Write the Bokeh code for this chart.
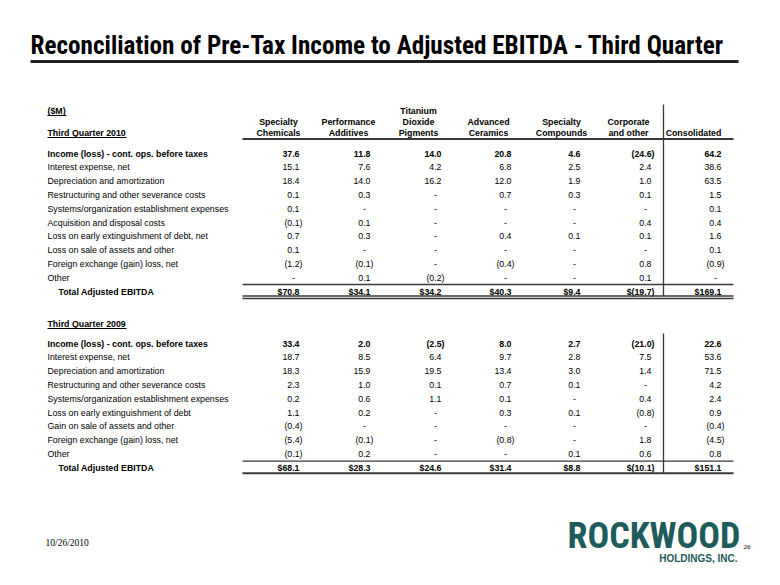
from bokeh.plotting import figure
from bokeh.models import Range1d, ColumnDataSource
from bokeh.core.properties import value
from bokeh.embed import file_html
from bokeh.resources import INLINE

# ---------------- data ----------------
title = "Reconciliation of Pre-Tax Income to Adjusted EBITDA - Third Quarter"
unit_label = "($M)"
segments = [
    ["Specialty", "Chemicals"],
    ["Performance", "Additives"],
    ["Titanium", "Dioxide", "Pigments"],
    ["Advanced", "Ceramics"],
    ["Specialty", "Compounds"],
    ["Corporate", "and other"],
    ["Consolidated"],
]

period_2010 = "Third Quarter 2010"
labels_2010 = [
    "Income (loss) - cont. ops. before taxes",
    "Interest expense, net",
    "Depreciation and amortization",
    "Restructuring and other severance costs",
    "Systems/organization establishment expenses",
    "Acquisition and disposal costs",
    "Loss on early extinguishment of debt, net",
    "Loss on sale of assets and other",
    "Foreign exchange (gain) loss, net",
    "Other",
    "Total Adjusted EBITDA",
]
spec_chem_2010 = [37.6, 15.1, 18.4, 0.1, 0.1, -0.1, 0.7, 0.1, -1.2, None, 70.8]
perf_add_2010 = [11.8, 7.6, 14.0, 0.3, None, 0.1, 0.3, None, -0.1, 0.1, 34.1]
tio2_2010 = [14.0, 4.2, 16.2, None, None, None, None, None, None, -0.2, 34.2]
adv_cer_2010 = [20.8, 6.8, 12.0, 0.7, None, None, 0.4, None, -0.4, None, 40.3]
spec_comp_2010 = [4.6, 2.5, 1.9, 0.3, None, None, 0.1, None, None, None, 9.4]
corp_2010 = [-24.6, 2.4, 1.0, 0.1, None, 0.4, 0.1, None, 0.8, 0.1, -19.7]
consol_2010 = [64.2, 38.6, 63.5, 1.5, 0.1, 0.4, 1.6, 0.1, -0.9, None, 169.1]

period_2009 = "Third Quarter 2009"
labels_2009 = [
    "Income (loss) - cont. ops. before taxes",
    "Interest expense, net",
    "Depreciation and amortization",
    "Restructuring and other severance costs",
    "Systems/organization establishment expenses",
    "Loss on early extinguishment of debt",
    "Gain on sale of assets and other",
    "Foreign exchange (gain) loss, net",
    "Other",
    "Total Adjusted EBITDA",
]
spec_chem_2009 = [33.4, 18.7, 18.3, 2.3, 0.2, 1.1, -0.4, -5.4, -0.1, 68.1]
perf_add_2009 = [2.0, 8.5, 15.9, 1.0, 0.6, 0.2, None, -0.1, 0.2, 28.3]
tio2_2009 = [-2.5, 6.4, 19.5, 0.1, 1.1, None, None, None, None, 24.6]
adv_cer_2009 = [8.0, 9.7, 13.4, 0.7, 0.1, 0.3, None, -0.8, None, 31.4]
spec_comp_2009 = [2.7, 2.8, 3.0, 0.1, None, 0.1, None, None, 0.1, 8.8]
corp_2009 = [-21.0, 7.5, 1.4, None, 0.4, -0.8, None, 1.8, 0.6, -10.1]
consol_2009 = [22.6, 53.6, 71.5, 4.2, 2.4, 0.9, -0.4, -4.5, 0.8, 151.1]

footer_date = "10/26/2010"
page_number = "26"
logo_name = "ROCKWOOD"
logo_sub = "HOLDINGS, INC."

# ---------------- layout ----------------
W, H = 764, 569
p = figure(width=W, height=H, output_backend="svg", toolbar_location=None,
           x_range=Range1d(0, W), y_range=Range1d(H, 0),
           min_border=0, outline_line_color=None, background_fill_color="white")
p.xaxis.visible = False
p.yaxis.visible = False
p.xgrid.visible = False
p.ygrid.visible = False

FONT = value("Liberation Sans")
COND = value("Roboto Condensed, DejaVu Sans Condensed, Liberation Sans Narrow, Liberation Sans")
FS = "8.8px"
LINE_C = "#3a3a3a"
LOGO_C = "#1d5c5b"

col_edges = [299, 370, 441, 511, 580, 651, 721]
col_centers = [278, 348, 418, 488, 561, 628, 693]
label_x = 47
total_x = 58
vline_x = 663
rule_x0, rule_x1 = 242, 733

# title
p.text(x=[30], y=[45], text=[title], text_font=COND,
       text_font_style="bold", text_font_size="25.2px", text_color="black",
       text_baseline="middle")
p.segment(x0=[30], y0=[61], x1=[738], y1=[61], line_color="#222222", line_width=3)

# header
p.text(x=[label_x], y=[110], text=[unit_label], text_font=FONT, text_font_style="bold",
       text_font_size=FS, text_baseline="middle")
p.segment(x0=[label_x], y0=[115], x1=[label_x + 19], y1=[115], line_color="black", line_width=1)

hx, hy, ht = [], [], []
for c, lines in zip(col_centers, segments):
    n = len(lines)
    for i, t in enumerate(lines):
        hx.append(c)
        hy.append(132 - (n - 1 - i) * 11)
        ht.append(t)
p.text(x=hx, y=hy, text=ht, text_font=FONT, text_font_style="bold", text_font_size=FS,
       text_align="center", text_baseline="middle")
p.segment(x0=[rule_x0], y0=[138.5], x1=[rule_x1], y1=[138.5], line_color=LINE_C, line_width=2)


def fmt(v, dollar):
    if v is None:
        return "-"
    s = "(%.1f)" % (-v) if v < 0 else "%.1f" % v
    return ("$" + s) if dollar else s


def section(period, period_y, labels, cols, y0, step):
    n = len(labels)
    ys = [y0 + i * step for i in range(n)]
    p.text(x=[label_x], y=[period_y], text=[period], text_font=FONT, text_font_style="bold",
           text_font_size=FS, text_baseline="middle")
    p.segment(x0=[label_x], y0=[period_y + 5], x1=[label_x + 79], y1=[period_y + 5],
              line_color="black", line_width=1)
    reg = dict(x=[], y=[], text=[])
    bold = dict(x=[], y=[], text=[])
    for i, lab in enumerate(labels):
        if i == 0:
            bold["x"].append(label_x); bold["y"].append(ys[i]); bold["text"].append(lab)
        elif i == n - 1:
            bold["x"].append(total_x); bold["y"].append(ys[i]); bold["text"].append(lab)
        else:
            reg["x"].append(label_x); reg["y"].append(ys[i]); reg["text"].append(lab)
    groups = {}
    for edge, vals in zip(col_edges, cols):
        for i, v in enumerate(vals):
            b = (i == 0 or i == n - 1)
            dollar = (i == n - 1)
            if v is None:
                key = (b, "center"); x = edge - 6
            else:
                key = (b, "right"); x = edge + (3 if v < 0 else 0)
            g = groups.setdefault(key, dict(x=[], y=[], text=[]))
            g["x"].append(x); g["y"].append(ys[i]); g["text"].append(fmt(v, dollar))
    for d, st in ((reg, "normal"), (bold, "bold")):
        if d["x"]:
            p.text(x="x", y="y", text="text", source=ColumnDataSource(d), text_font=FONT,
                   text_font_style=st, text_font_size=FS, text_baseline="middle")
    for (b, al), d in groups.items():
        p.text(x="x", y="y", text="text", source=ColumnDataSource(d), text_font=FONT,
               text_font_style="bold" if b else "normal", text_font_size=FS,
               text_align=al, text_baseline="middle")
    return ys


ys10 = section(period_2010, 132, labels_2010,
               [spec_chem_2010, perf_add_2010, tio2_2010, adv_cer_2010, spec_comp_2010,
                corp_2010, consol_2010], 153, 13.8)
ys09 = section(period_2009, 323, labels_2009,
               [spec_chem_2009, perf_add_2009, tio2_2009, adv_cer_2009, spec_comp_2009,
                corp_2009, consol_2009], 343, 13.8)

# rules 2010
t10 = ys10[-1]
p.segment(x0=[rule_x0] * 3, x1=[rule_x1] * 3,
          y0=[t10 - 7, t10 + 4.5, t10 + 7], y1=[t10 - 7, t10 + 4.5, t10 + 7],
          line_color=LINE_C, line_width=1.3)
p.segment(x0=[vline_x], x1=[vline_x], y0=[104], y1=[t10 + 4.5], line_color=LINE_C, line_width=1.3)
# rules 2009
t09 = ys09[-1]
p.segment(x0=[rule_x0], x1=[rule_x1], y0=[t09 - 6.5], y1=[t09 - 6.5], line_color=LINE_C, line_width=1.3)
p.segment(x0=[rule_x0], x1=[rule_x1], y0=[t09 + 5.5], y1=[t09 + 5.5], line_color=LINE_C, line_width=2)
p.segment(x0=[vline_x], x1=[vline_x], y0=[333], y1=[t09 + 5.5], line_color=LINE_C, line_width=1.3)

# footer
p.text(x=[45], y=[542], text=[footer_date], text_font=value("Liberation Serif"),
       text_font_size="9.5px", text_baseline="middle")
p.text(x=[743], y=[546], text=[page_number], text_font=value("Liberation Serif"),
       text_font_size="7px", text_baseline="middle")
p.text(x=[567], y=[535], text=[logo_name], text_font=COND, text_font_style="bold",
       text_font_size="36px", text_color=LOGO_C, text_baseline="middle")
p.text(x=[737], y=[558], text=[logo_sub], text_font=FONT, text_font_style="bold",
       text_font_size="10px", text_color=LOGO_C, text_align="right", text_baseline="middle")

open("out.html", "w").write(file_html(p, INLINE))
